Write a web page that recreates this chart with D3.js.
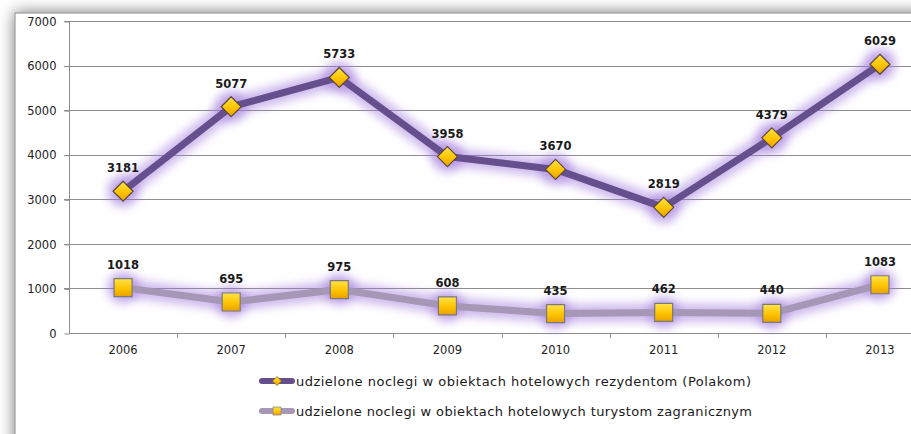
<!DOCTYPE html>
<html>
<head>
<meta charset="utf-8">
<script src="https://cdn.jsdelivr.net/npm/d3@7"></script>
<style>
  body { margin: 0; background: #fff; }
  svg text { font-family: "DejaVu Sans", Verdana, sans-serif; }
</style>
</head>
<body>
<svg id="chart" width="911" height="434"></svg>
<script>
// data
var years = ["2006", "2007", "2008", "2009", "2010", "2011", "2012", "2013"];
var residents = [3181, 5077, 5733, 3958, 3670, 2819, 4379, 6029];
var foreigners = [1018, 695, 975, 608, 435, 462, 440, 1083];
var yTicks = [0, 1000, 2000, 3000, 4000, 5000, 6000, 7000];
var seriesNames = [
  "udzielone noclegi w obiektach hotelowych rezydentom (Polakom)",
  "udzielone noclegi w obiektach hotelowych turystom zagranicznym"
];

var col = {
  line1: "#654f8c",
  line2: "#a597b5",
  glow: "#9d74dc",
  grid: "#8e8e8e"
};

var svg = d3.select("#chart");

var x = d3.scaleBand().domain(years).range([69, 934]).padding(0),
    y = d3.scaleLinear().domain([0, 7000]).range([333, 21]);

var defs = svg.append("defs");

// shadow behind the chart box
var sh = defs.append("filter").attr("id", "shadow")
  .attr("x", "-10%").attr("y", "-10%").attr("width", "120%").attr("height", "130%");
sh.append("feDropShadow").attr("dx", 0).attr("dy", 0)
  .attr("stdDeviation", 8).attr("flood-color", "#000").attr("flood-opacity", 0.55);

// soft glow around lines and markers
var gl = defs.append("filter").attr("id", "glow")
  .attr("x", "-20%").attr("y", "-50%").attr("width", "140%").attr("height", "200%");
gl.append("feGaussianBlur").attr("stdDeviation", 5);

var gold = defs.append("linearGradient").attr("id", "gold")
  .attr("x1", 0).attr("y1", 0).attr("x2", 0).attr("y2", 1);
gold.append("stop").attr("offset", "0%").attr("stop-color", "#ffe34a");
gold.append("stop").attr("offset", "55%").attr("stop-color", "#ffc400");
gold.append("stop").attr("offset", "100%").attr("stop-color", "#e8a000");

// box with shadow
svg.append("rect")
  .attr("x", 15).attr("y", 13).attr("width", 940).attr("height", 450)
  .attr("fill", "#fff").attr("stroke", "#8a8a8a").attr("stroke-width", 1)
  .attr("filter", "url(#shadow)");

// gridlines
svg.append("g").selectAll("line")
  .data(yTicks.filter(function(d){ return d > 0; })).enter()
  .append("line")
  .attr("x1", 64).attr("x2", 911)
  .attr("y1", function(d){ return Math.round(y(d)) + 0.5; })
  .attr("y2", function(d){ return Math.round(y(d)) + 0.5; })
  .attr("stroke", col.grid).attr("stroke-width", 1);

// y axis
var yAxis = d3.axisLeft(y).tickValues(yTicks).tickFormat(d3.format("d")).tickSize(5).tickPadding(8);
var gy = svg.append("g").attr("transform", "translate(69.5,0.5)").call(yAxis);
gy.select(".domain").attr("stroke", col.grid).attr("d", "M0," + y(7000) + "V" + y(0));
gy.selectAll(".tick line").attr("stroke", col.grid);
gy.selectAll("text").attr("font-size", 11.5).attr("fill", "#222")
  .attr("font-family", "DejaVu Sans, Verdana, sans-serif");

// x axis with ticks between categories
var xAxis = d3.axisBottom(x).tickSize(0).tickPadding(12);
var gx = svg.append("g").attr("transform", "translate(0," + (Math.round(y(0)) + 0.5) + ")").call(xAxis);
gx.select(".domain").attr("stroke", col.grid).attr("d", "M69,0H911");
gx.selectAll("text").attr("font-size", 11.5).attr("fill", "#222")
  .attr("font-family", "DejaVu Sans, Verdana, sans-serif");
svg.append("g").selectAll("line")
  .data(years.slice(1)).enter().append("line")
  .attr("x1", function(d){ return Math.round(x(d)) + 0.5; })
  .attr("x2", function(d){ return Math.round(x(d)) + 0.5; })
  .attr("y1", y(0)).attr("y2", y(0) + 5)
  .attr("stroke", col.grid);

var cx = function(i){ return x(years[i]) + x.bandwidth() / 2; };

var line = d3.line()
  .x(function(d, i){ return cx(i); })
  .y(function(d){ return y(d); });

function diamond(sel, s) {
  sel.attr("d", "M0," + (-s) + "L" + s + ",0L0," + s + "L" + (-s) + ",0Z");
}
function square(sel, s) {
  sel.attr("d", "M" + (-s) + "," + (-s) + "H" + s + "V" + s + "H" + (-s) + "Z");
}

function drawSeries(vals, stroke, shape, markStroke) {
  var g = svg.append("g");
  // glow
  g.append("path").datum(vals).attr("d", line)
    .attr("fill", "none").attr("stroke", col.glow).attr("stroke-opacity", 0.5)
    .attr("stroke-width", 18).attr("stroke-linejoin", "round").attr("stroke-linecap", "round")
    .attr("filter", "url(#glow)");
  g.selectAll("circle.glow").data(vals).enter().append("circle")
    .attr("cx", function(d, i){ return cx(i); })
    .attr("cy", function(d){ return y(d); })
    .attr("r", 16).attr("fill", col.glow).attr("fill-opacity", 0.5)
    .attr("filter", "url(#glow)");
  g.append("path").datum(vals).attr("d", line)
    .attr("fill", "none").attr("stroke", stroke)
    .attr("stroke-width", 7).attr("stroke-linejoin", "round");
  g.selectAll("path.mark").data(vals).enter().append("path")
    .attr("class", "mark")
    .attr("transform", function(d, i){ return "translate(" + cx(i) + "," + y(d) + ")"; })
    .each(function(){ shape(d3.select(this), shape === diamond ? 10 : 9); })
    .attr("fill", "url(#gold)").attr("stroke", markStroke).attr("stroke-width", 1.2);
  g.selectAll("text").data(vals).enter().append("text")
    .attr("x", function(d, i){ return cx(i); })
    .attr("y", function(d){ return y(d) - 19; })
    .attr("text-anchor", "middle")
    .attr("font-size", 11.5).attr("font-weight", "bold").attr("fill", "#1a1a1a")
    .text(function(d){ return d; });
}

drawSeries(foreigners, col.line2, square, "#7a7a7a");
drawSeries(residents, col.line1, diamond, "#5a4a3a");

// legend
var legend = svg.append("g");
var legendRows = [
  {name: seriesNames[0], stroke: col.line1, shape: diamond, y: 381, w: 455},
  {name: seriesNames[1], stroke: col.line2, shape: square, y: 411, w: 456}
];
legendRows.forEach(function(r) {
  legend.append("line")
    .attr("x1", 262).attr("x2", 292).attr("y1", r.y).attr("y2", r.y)
    .attr("stroke", r.stroke).attr("stroke-width", 6).attr("stroke-linecap", "round");
  legend.append("path")
    .attr("transform", "translate(277," + r.y + ")")
    .call(function(s){ r.shape(s, r.shape === diamond ? 4.5 : 4); })
    .attr("fill", "url(#gold)").attr("stroke", r.shape === diamond ? "#8a6a20" : "#8a8a8a")
    .attr("stroke-width", 0.8);
  legend.append("text")
    .attr("x", 296).attr("y", r.y).attr("dy", "0.35em")
    .attr("font-size", 13).attr("fill", "#1a1a1a")
    .attr("textLength", r.w).attr("lengthAdjust", "spacing")
    .text(r.name);
});
</script>
</body>
</html>
